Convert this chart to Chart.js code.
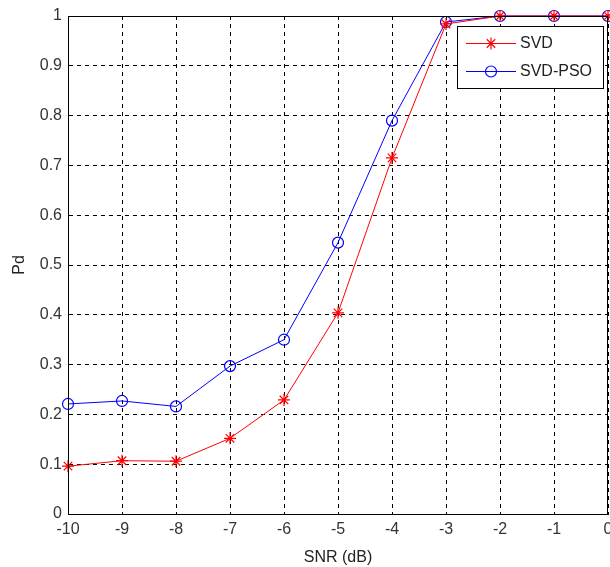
<!DOCTYPE html>
<html>
<head>
<meta charset="utf-8">
<script src="https://cdn.jsdelivr.net/npm/chart.js@4"></script>
<style>
html,body{margin:0;padding:0;background:#fff;}
#wrap{width:610px;height:567px;}
</style>
</head>
<body>
<div id="wrap"><canvas id="c" width="610" height="567"></canvas></div>
<script>
const snr = [-10, -9, -8, -7, -6, -5, -4, -3, -2, -1, 0];
const svd = [0.096, 0.107, 0.106, 0.152, 0.229, 0.404, 0.715, 0.984, 1.0, 1.0, 1.0];
const svdPso = [0.221, 0.227, 0.216, 0.297, 0.350, 0.545, 0.790, 0.988, 1.0, 1.0, 1.0];
const xTickLabels = ['-10', '-9', '-8', '-7', '-6', '-5', '-4', '-3', '-2', '-1', '0'];
const yTickLabels = ['0', '0.1', '0.2', '0.3', '0.4', '0.5', '0.6', '0.7', '0.8', '0.9', '1'];

const FONT = "'Liberation Sans', Arial, sans-serif";

const frameAndLegend = {
  id: 'frameAndLegend',
  afterDatasetsDraw(chart) {
    const {ctx, chartArea: a} = chart;
    ctx.save();
    ctx.strokeStyle = '#000';
    ctx.lineWidth = 1;
    ctx.setLineDash([]);
    ctx.strokeRect(Math.round(a.left) + 0.5, Math.round(a.top) + 0.5,
                   Math.round(a.right - a.left) - 1, Math.round(a.bottom - a.top));
    // legend box
    const bx = 457.5, by = 26.5, bw = 146, bh = 62;
    ctx.fillStyle = '#fff';
    ctx.fillRect(bx, by, bw, bh);
    ctx.strokeRect(bx, by, bw, bh);
    ctx.font = '16px ' + FONT;
    ctx.textBaseline = 'middle';
    ctx.textAlign = 'left';
    chart.data.datasets.forEach((ds, i) => {
      const y = 43 + i * 28;
      ctx.strokeStyle = ds.borderColor;
      ctx.lineWidth = 1;
      ctx.beginPath();
      ctx.moveTo(466, y + 0.5);
      ctx.lineTo(516, y + 0.5);
      ctx.stroke();
      ctx.fillStyle = 'rgba(0,0,0,0)';
      ctx.lineWidth = 1.2;
      Chart.helpers.drawPoint(ctx, {pointStyle: ds.pointStyle, radius: ds.pointRadius, borderWidth: 1.2}, 491, y + 0.5);
      ctx.fillStyle = '#222';
      ctx.fillText(ds.label, 520, y + 1);
    });
    ctx.restore();
  }
};

new Chart(document.getElementById('c'), {
  type: 'line',
  data: {
    datasets: [
      {
        label: 'SVD',
        data: snr.map((x, i) => ({x, y: svd[i]})),
        borderColor: '#ff0000',
        backgroundColor: 'rgba(0,0,0,0)',
        borderWidth: 1,
        pointStyle: 'star',
        pointRadius: 6,
        pointBorderColor: '#ff0000',
        pointBorderWidth: 1.2,
        tension: 0
      },
      {
        label: 'SVD-PSO',
        data: snr.map((x, i) => ({x, y: svdPso[i]})),
        borderColor: '#0000ff',
        backgroundColor: 'rgba(0,0,0,0)',
        borderWidth: 1,
        pointStyle: 'circle',
        pointRadius: 5.5,
        pointBorderColor: '#0000ff',
        pointBackgroundColor: 'rgba(0,0,0,0)',
        pointBorderWidth: 1.2,
        tension: 0
      }
    ]
  },
  options: {
    responsive: false,
    animation: false,
    devicePixelRatio: 1,
    clip: false,
    layout: {autoPadding: false, padding: {top: 16, right: 2, left: 0, bottom: 0}},
    plugins: {legend: {display: false}, tooltip: {enabled: false}},
    scales: {
      x: {
        type: 'linear',
        min: -10, max: 0,
        ticks: {
          stepSize: 1,
          padding: 6,
          color: '#333',
          font: {family: FONT, size: 16},
          maxRotation: 0,
          callback: (v) => { const i = snr.indexOf(v); return i >= 0 ? xTickLabels[i] : ''; }
        },
        grid: {color: '#000', lineWidth: 1, drawTicks: false},
        border: {display: true, color: '#000', dash: [4, 4], width: 1},
        title: {display: true, text: 'SNR (dB)', color: '#222', font: {family: FONT, size: 16}, padding: {top: 0, bottom: 0}},
        afterFit(s) { s.height = 53; s.paddingRight = 0; s.paddingLeft = 0; }
      },
      y: {
        min: 0, max: 1,
        ticks: {
          stepSize: 0.1,
          padding: 6,
          color: '#333',
          font: {family: FONT, size: 16},
          callback: (v) => { const i = Math.round(v * 10); return yTickLabels[i] ?? ''; }
        },
        grid: {color: '#000', lineWidth: 1, drawTicks: false},
        border: {display: true, color: '#000', dash: [4, 4], width: 1},
        title: {display: true, text: 'Pd', color: '#222', font: {family: FONT, size: 16}, padding: {top: 10, bottom: 0}},
        afterFit(s) { s.width = 68; s.paddingTop = 0; s.paddingBottom = 0; }
      }
    }
  },
  plugins: [frameAndLegend]
});
</script>
</body>
</html>
